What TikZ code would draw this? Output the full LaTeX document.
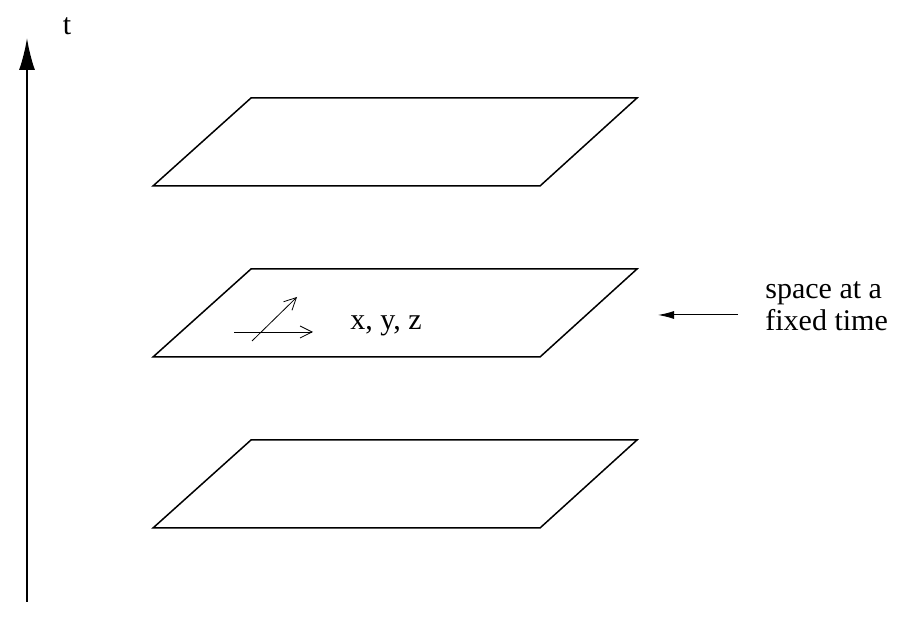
\documentclass[tikz,border=0pt]{standalone}
\usepackage{fontspec}
\setmainfont{Liberation Serif}
\usepackage{tikz}
\usetikzlibrary{arrows,arrows.meta,calc,positioning}
\tikzset{%
    slab/.style={line width=0.75pt,line join=miter},
    ax/.style={-{Latex[length=16pt,width=8pt]},line width=1pt},
    ptr/.style={-{Latex[length=8pt,width=4pt]},line width=0.5pt},
    dir/.style={-{Straight Barb[length=6pt,width=6pt]},line width=0.4pt},
}
\tikzstyle{lbl}=[font=\fontsize{15}{16}\selectfont,inner sep=0pt]

\begin{document}
\begin{tikzpicture}[x=0.5pt,y=-0.5pt,every text node part/.style={align=left}]
      \useasboundingbox (0,0) rectangle (900,619);
      % time axis
      \coordinate (t0) at (27,602);
      \coordinate (t1) at (27,38);
      \draw[ax] (t0) -- (t1);
      \node[lbl] (tl) at (67,26) {t};

      % three slices of space
      \foreach \y in {186,357,528}
        \draw[slab] (153,\y) -- (540,\y) -- (637,\y-88) -- (251,\y-88) -- cycle;

      % directions in the middle slice
      \coordinate (hx0) at (234,332);
      \coordinate (hx1) at (313,332);
      \coordinate (dg0) at (252,341);
      \coordinate (dg1) at (297,297);
      \draw[dir] (hx0) -- (hx1);
      \draw[dir] (dg0) -- (dg1);
      \node[lbl] (xyz) at (386,326) {x, y, z};

      % label
      \node[lbl,anchor=west] (fix) at (765,306) {space at a\\fixed time};
      \coordinate (p0) at (738,315);
      \coordinate (p1) at (658,315);
      \draw[ptr] (p0) -- (p1);
    \end{tikzpicture}
\end{document}
